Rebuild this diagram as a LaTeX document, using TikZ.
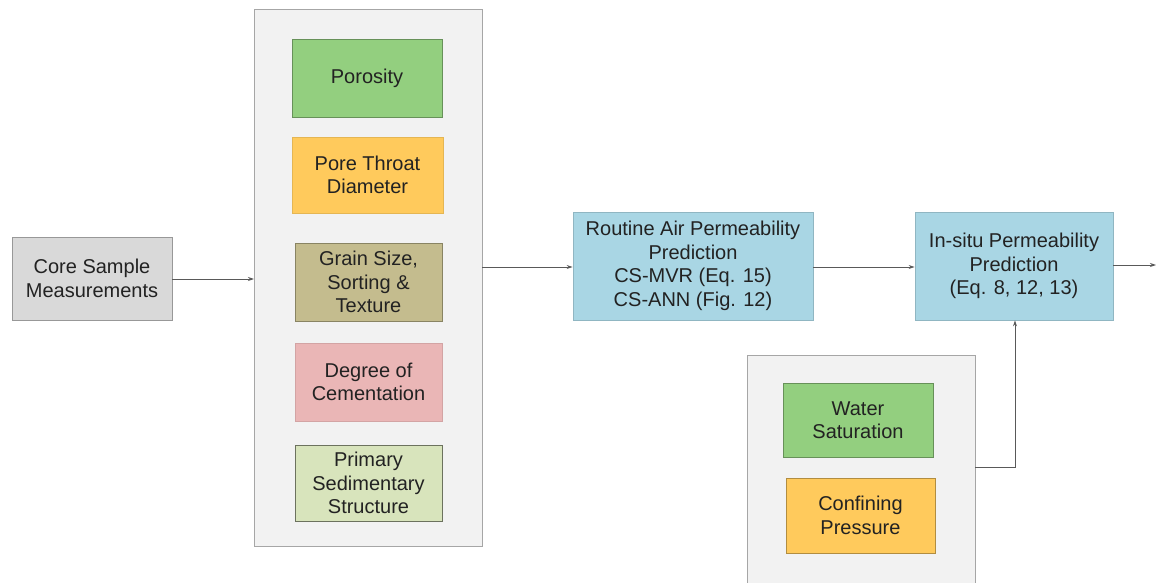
\documentclass[tikz,border=0pt]{standalone}
\usepackage{fontspec}
\setmainfont{Liberation Sans}
\usetikzlibrary{arrows.meta}
\definecolor{coregray}{HTML}{D9D9D9}
\definecolor{panel}{HTML}{F2F2F2}
\definecolor{porgreen}{HTML}{93CF7F}
\definecolor{poreorange}{HTML}{FFCA5C}
\definecolor{graintan}{HTML}{C4BC8E}
\definecolor{cempink}{HTML}{EAB6B6}
\definecolor{sedgreen}{HTML}{D8E4BC}
\definecolor{predblue}{HTML}{A9D6E4}
\definecolor{txt}{HTML}{222222}
\definecolor{linegray}{HTML}{595959}
\tikzset{
  box/.style={draw=#1!70!black, fill=#1, line width=0.8pt, inner sep=0pt, align=center,
    text=txt, font=\fontsize{20}{23.5}\selectfont},
  panelbox/.style={draw=gray!70, fill=panel, line width=0.8pt},
  conn/.style={draw=linegray, line width=0.9pt, -{Stealth[length=6pt,width=4pt]}},
}
\begin{document}
\begin{tikzpicture}[x=1pt,y=-1pt]
\useasboundingbox (0,0) rectangle (1157,583);
% panels
\draw[panelbox] (254,9) rectangle (482,546);
\coordinate (bigL) at (254,279);
\coordinate (bigR) at (482,267);
\draw[panelbox] (747,355) rectangle (975,590);
\coordinate (smallR) at (975,467);
% left box
\node[box=coregray, minimum width=160pt, minimum height=83pt] (core) at (92,278.5) {Core Sample\\Measurements};
% property boxes
\node[box=porgreen, minimum width=150pt, minimum height=78pt] (por) at (367,78) {Porosity};
\node[box=poreorange, draw=poreorange!90!black, minimum width=151pt, minimum height=76pt] (pore) at (367.5,175) {Pore Throat\\Diameter};
\node[box=graintan, minimum width=147pt, minimum height=78pt] (grain) at (368.5,282) {Grain Size,\\Sorting \&\\Texture};
\node[box=cempink, draw=cempink!90!black, minimum width=147pt, minimum height=78pt] (cem) at (368.5,382) {Degree of\\Cementation};
\node[box=sedgreen, draw=sedgreen!50!black, minimum width=147pt, minimum height=76pt] (sed) at (368.5,483) {Primary\\Sedimentary\\Structure};
% prediction boxes
\node[box=predblue, draw=predblue!85!black, minimum width=240pt, minimum height=108pt] (rout) at (693,266) {Routine Air Permeability\\Prediction\\CS-MVR (Eq. 15)\\CS-ANN (Fig. 12)};
\node[box=predblue, draw=predblue!85!black, minimum width=198pt, minimum height=108pt] (insitu) at (1014,266) {In-situ Permeability\\Prediction\\(Eq. 8, 12, 13)};
% lower boxes
\node[box=porgreen, minimum width=150pt, minimum height=74pt] (water) at (858,420) {Water\\Saturation};
\node[box=poreorange, draw=poreorange!70!black, minimum width=149pt, minimum height=75pt] (conf) at (860.5,515.5) {Confining\\Pressure};
\coordinate (out) at (1156,265);
% connectors
\draw[conn] (core.east |- 0,279) -- (bigL);
\draw[conn] (bigR) -- (rout.west |- bigR);
\draw[conn] (rout.east |- 0,267) -- (insitu.west |- 0,267);
\draw[conn] (insitu.east |- out) -- (out);
\draw[conn] (smallR) -| (insitu.south -| 1015,0);
\end{tikzpicture}
\end{document}
